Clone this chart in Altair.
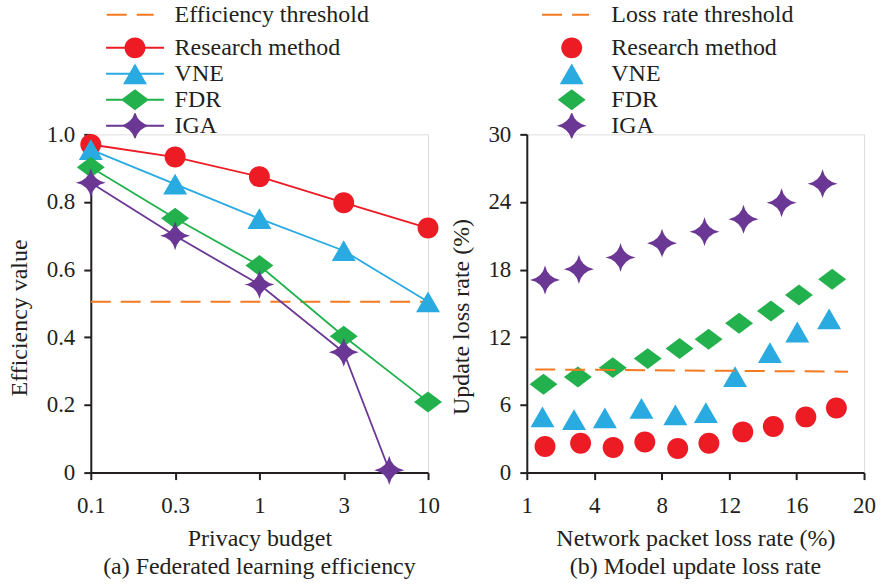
import json

import altair as alt
import pandas as pd

FONT = "Liberation Serif, Times New Roman, DejaVu Serif, serif"
INK = "#231f20"
SERIES = ["Research method", "VNE", "FDR", "IGA"]
COLORS = ["#ed1c24", "#29abe2", "#22b14c", "#6a3795"]
THRESHOLD_COLOR = "#f37a21"
DASH = [20, 10]

# ---- (a) federated learning efficiency against privacy budget ----
budget_labels = ["0.1", "0.3", "1", "3", "10"]
budget_index = [0, 1, 2, 3, 4]
iga_budget_index = [0, 1, 2, 3, 3.54]
eff_research = [0.970, 0.933, 0.875, 0.798, 0.723]
eff_vne = [0.955, 0.853, 0.751, 0.656, 0.505]
eff_fdr = [0.903, 0.752, 0.612, 0.403, 0.209]
eff_iga = [0.857, 0.700, 0.556, 0.356, 0.007]
eff_threshold = 0.505
eff_ticks = [0, 0.2, 0.4, 0.6, 0.8, 1.0]

# ---- (b) model update loss rate against network packet loss rate ----
loss_tick_values = [0, 4, 8, 12, 16, 20]
loss_tick_labels = ["1", "4", "8", "12", "16", "20"]
pkt_research = [1.08, 3.19, 5.12, 7.00, 8.95, 10.80, 12.81, 14.62, 16.55, 18.36]
upd_research = [2.31, 2.60, 2.22, 2.72, 2.13, 2.60, 3.61, 4.08, 4.94, 5.73]
pkt_vne = [0.93, 2.80, 4.63, 6.80, 8.81, 10.62, 12.35, 14.42, 16.04, 17.93]
upd_vne = [4.94, 4.70, 4.85, 5.70, 5.11, 5.32, 8.51, 10.64, 12.47, 13.63]
pkt_fdr = [0.99, 3.03, 5.10, 7.17, 9.06, 10.78, 12.59, 14.48, 16.14, 18.11]
upd_fdr = [7.83, 8.48, 9.31, 10.11, 11.00, 11.82, 13.24, 14.34, 15.76, 17.14]
pkt_iga = [1.08, 3.09, 5.56, 8.02, 10.54, 12.85, 15.11, 17.54]
upd_iga = [17.09, 18.03, 19.07, 20.34, 21.37, 22.47, 23.94, 25.63]
loss_threshold_x = [0.5, 19.05]
loss_threshold_y = [9.15, 8.95]
loss_ticks = [0, 6, 12, 18, 24, 30]

# Marker outlines, in units of sqrt(size)/2 pixels (10 px at size 400)
CIRCLE = "M-1.05,0A1.05,1.05 0 1,1 1.05,0A1.05,1.05 0 1,1 -1.05,0Z"
TRIANGLE = "M0,-1.04L1.2,1.04L-1.2,1.04Z"
DIAMOND = "M0,-1.05L1.4,0L0,1.05L-1.4,0Z"
STAR = ("M0,-1.45Q0.25,-0.25 1.5,0Q0.25,0.25 0,1.45"
        "Q-0.25,0.25 -1.5,0Q-0.25,-0.25 0,-1.45Z")
SHAPES = [CIRCLE, TRIANGLE, DIAMOND, STAR]
LINE_BAR = "M-2.9,-0.1H2.9V0.1H-2.9Z"
DASH_KEY = "M-4.7,0L4.7,0"  # 47 px long at symbol size 100 (5 px units)
MARK_SIZE = 400

LABEL_SIZE = 23
TEXT_SIZE = 24
W, H = 338, 339


def long_table(xs, ys):
    rows = []
    for name, xv, yv in zip(SERIES, xs, ys):
        for a, b in zip(xv, yv):
            rows.append({"series": name, "x": a, "y": b})
    return pd.DataFrame(rows)


def text_style():
    return dict(labelFont=FONT, labelFontSize=TEXT_SIZE, labelColor=INK,
                labelLimit=400)


def axis(**kw):
    base = dict(grid=False, domainColor=INK, domainWidth=2, tickColor=INK,
                tickWidth=2, tickSize=7, labelFont=FONT, labelFontSize=LABEL_SIZE,
                labelColor=INK, titleFont=FONT, titleFontSize=TEXT_SIZE,
                titleColor=INK, titleFontWeight="normal", labelOverlap=False,
                labelFlush=False)
    base.update(kw)
    return alt.Axis(**base)


def threshold_legend(x, label_offset):
    return alt.Legend(orient="none", legendX=x, legendY=-132, title=None,
                      direction="vertical", padding=0, symbolType=DASH_KEY,
                      symbolSize=100, symbolStrokeWidth=2,
                      symbolStrokeColor=THRESHOLD_COLOR,
                      labelOffset=label_offset, **text_style())


def series_legend(x):
    return alt.Legend(orient="none", legendX=x, legendY=-99.5, title=None,
                      direction="vertical", padding=0, clipHeight=25.6,
                      rowPadding=0, symbolOffset=18, symbolSize=MARK_SIZE,
                      symbolOpacity=1, labelOffset=27.7, **text_style())


def caption(text):
    return alt.TitleParams(text=text, orient="bottom", anchor="middle",
                           font=FONT, fontSize=TEXT_SIZE, fontWeight="normal",
                           color=INK, baseline="alphabetic", offset=23.5)


# ---------------- panel (a) ----------------
xa = alt.Scale(domain=[0, 4], nice=False, zero=False)
ya = alt.Scale(domain=[0, 1], nice=False)
xa_axis = axis(values=budget_index, title="Privacy budget", labelPadding=15,
               titlePadding=9,
               labelExpr=f"{json.dumps(budget_labels)}[round(datum.value)]")
ya_axis = axis(values=eff_ticks, title="Efficiency value", labelPadding=9,
               titlePadding=14.6, titleY=183.5,
               labelExpr="datum.value == 0 ? '0' : format(datum.value, '.1f')")

eff = long_table([budget_index, budget_index, budget_index, iga_budget_index],
                 [eff_research, eff_vne, eff_fdr, eff_iga])
thr_a = pd.DataFrame({"x": [budget_index[0], budget_index[-1]],
                      "y": [eff_threshold, eff_threshold],
                      "name": ["Efficiency threshold"] * 2})

a_threshold = alt.Chart(thr_a).mark_line(color=THRESHOLD_COLOR, strokeWidth=2).encode(
    x=alt.X("x:Q", scale=xa, axis=xa_axis),
    y=alt.Y("y:Q", scale=ya, axis=ya_axis),
    strokeDash=alt.StrokeDash("name:N",
                              scale=alt.Scale(domain=["Efficiency threshold"], range=[DASH]),
                              legend=threshold_legend(27.5, 32.5)),
)
a_lines = [
    alt.Chart(eff).transform_filter(alt.datum.series == name).mark_line(
        color=col, strokeWidth=1.8
    ).encode(x=alt.X("x:Q", scale=xa), y=alt.Y("y:Q", scale=ya))
    for name, col in zip(SERIES, COLORS)
]
a_points = [
    alt.Chart(eff).transform_filter(alt.datum.series == name).mark_point(
        shape=shape, filled=True, size=MARK_SIZE, opacity=1, strokeWidth=0,
        color=col
    ).encode(x=alt.X("x:Q", scale=xa), y=alt.Y("y:Q", scale=ya))
    for name, col, shape in zip(SERIES, COLORS, SHAPES)
]
# key entries: each marker with its line drawn through it
a_key = alt.Chart(pd.DataFrame({"series": SERIES})).transform_filter("false").mark_point(
    filled=True, size=MARK_SIZE, opacity=1
).encode(
    color=alt.Color("series:N", scale=alt.Scale(domain=SERIES, range=COLORS),
                    legend=series_legend(14.3)),
    shape=alt.Shape("series:N",
                    scale=alt.Scale(domain=SERIES, range=[s + LINE_BAR for s in SHAPES]),
                    legend=series_legend(14.3)),
)
panel_a = alt.layer(a_threshold, *a_lines, *a_points, a_key).properties(
    width=W, height=H, title=caption("(a) Federated learning efficiency"))

# ---------------- panel (b) ----------------
xb = alt.Scale(domain=[0, 20], nice=False, zero=False)
yb = alt.Scale(domain=[0, 30], nice=False)
xb_axis = axis(values=loss_tick_values, title="Network packet loss rate (%)",
               labelPadding=15, titlePadding=9,
               labelExpr=f"{json.dumps(loss_tick_labels)}[round(datum.value / 4)]")
yb_axis = axis(values=loss_ticks, title="Update loss rate (%)", labelPadding=9,
               titlePadding=14, titleY=182.5)

loss = long_table([pkt_research, pkt_vne, pkt_fdr, pkt_iga],
                  [upd_research, upd_vne, upd_fdr, upd_iga])
thr_b = pd.DataFrame({"x": loss_threshold_x, "y": loss_threshold_y,
                      "name": ["Loss rate threshold"] * 2})

b_points = alt.Chart(loss).mark_point(filled=True, size=MARK_SIZE, opacity=1,
                                      strokeWidth=0).encode(
    x=alt.X("x:Q", scale=xb, axis=xb_axis),
    y=alt.Y("y:Q", scale=yb, axis=yb_axis),
    color=alt.Color("series:N", scale=alt.Scale(domain=SERIES, range=COLORS),
                    legend=series_legend(15)),
    shape=alt.Shape("series:N", scale=alt.Scale(domain=SERIES, range=SHAPES),
                    legend=series_legend(15)),
)
b_threshold = alt.Chart(thr_b).mark_line(color=THRESHOLD_COLOR, strokeWidth=2).encode(
    x=alt.X("x:Q", scale=xb), y=alt.Y("y:Q", scale=yb),
    strokeDash=alt.StrokeDash("name:N",
                              scale=alt.Scale(domain=["Loss rate threshold"], range=[DASH]),
                              legend=threshold_legend(26.85, 33.85)),
)
panel_b = alt.layer(b_points, b_threshold).properties(
    width=W, height=H, title=caption("(b) Model update loss rate"))

chart = alt.hconcat(panel_a, panel_b, spacing=99, bounds="flush").resolve_scale(
    color="independent", shape="independent", strokeDash="independent"
).resolve_legend(
    color="independent", shape="independent", strokeDash="independent"
).properties(
    padding={"left": 7, "top": 1, "right": 5, "bottom": 5}
).configure_view(stroke=None).configure(background="white")

chart.save("out.html", embed_options={"renderer": "svg", "actions": False})
